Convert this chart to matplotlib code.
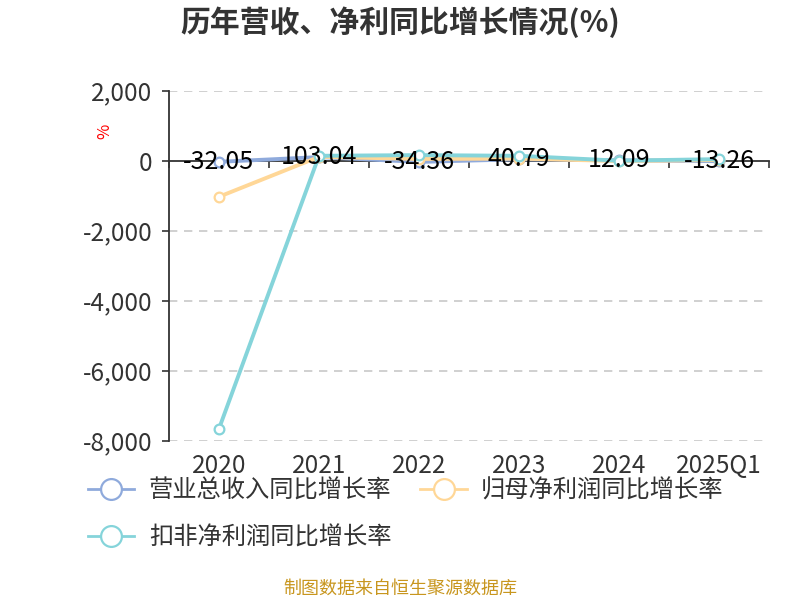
import matplotlib
matplotlib.use("Agg")
import matplotlib.pyplot as plt
from matplotlib.lines import Line2D
import numpy as np

plt.rcParams['font.family'] = ['Noto Sans CJK SC', 'DejaVu Sans']

categories = ['2020', '2021', '2022', '2023', '2024', '2025Q1']
revenue_growth = [-32.05, 103.04, -34.36, 40.79, 12.09, -13.26]
parent_profit_growth = [-1030, 110, 50, 60, -10, 20]
deducted_profit_growth = [-7657, 140, 160, 140, 0, 45]
series_names = ['营业总收入同比增长率', '归母净利润同比增长率', '扣非净利润同比增长率']
yticks = [2000, 0, -2000, -4000, -6000, -8000]

colors = ['#8FAADC', '#FFD797', '#85D4DA']

fig = plt.figure(figsize=(8, 6), dpi=100)
ax = fig.add_axes([169/800, 1-440.7/600, 600/800, (440.7-90.7)/600])

x = np.arange(len(categories))
series = [revenue_growth, parent_profit_growth, deducted_profit_growth]
handles = []
for i, (vals, c, name) in enumerate(zip(series, colors, series_names)):
    ax.plot(x, vals, color=c, lw=2.8, marker='o', markersize=7,
            markerfacecolor='white', markeredgecolor=c, markeredgewidth=1.6,
            zorder=3 + i, clip_on=False)
    handles.append(Line2D([], [], color=c, lw=2, marker='o', markersize=15,
                          markerfacecolor='white', markeredgecolor=c,
                          markeredgewidth=1.6, label=name))

for xi, v in zip(x, revenue_growth):
    ax.text(xi, v, f'{v:.2f}', ha='center', va='center', fontsize=18,
            color='#000000', zorder=10)

ax.set_xlim(-0.5, len(categories) - 0.5)
ax.set_ylim(-8000, 2000)
ax.set_yticks(yticks)
ax.set_yticklabels([f'{t:,}' for t in yticks])
ax.tick_params(axis='y', length=5, width=1.2, color='#333333', labelsize=17.5,
               labelcolor='#333333', pad=7)
for t in yticks:
    if t != 0:
        ax.axhline(t, color='#C8C8C8', lw=1.2, ls=(0, (5, 4)), zorder=0)

ax.spines['top'].set_visible(False)
ax.spines['right'].set_visible(False)
ax.spines['left'].set_color('#333333')
ax.spines['left'].set_linewidth(1.3)
ax.spines['bottom'].set_position(('data', 0))
ax.spines['bottom'].set_color('#333333')
ax.spines['bottom'].set_linewidth(1.3)
ax.spines['bottom'].set_zorder(2)
ax.set_xticks(np.arange(len(categories) + 1) - 0.5)
ax.set_xticklabels([])
ax.tick_params(axis='x', length=5, width=1.2, color='#333333', direction='out')

sec = ax.secondary_xaxis(0.0)
sec.set_xticks(x)
sec.set_xticklabels(categories)
sec.tick_params(axis='x', length=0, labelsize=17.5, labelcolor='#333333', pad=9)
sec.spines['bottom'].set_visible(False)

fig.text(0.5, 1-22/600, '历年营收、净利同比增长情况(%)', ha='center', va='center',
         fontsize=21.5, fontweight='bold', color='#333333')
fig.text(105/800, 1-131/600, '%', ha='center', va='center', rotation=90,
         fontsize=12, color='#FF0000')

fig.legend([handles[0], handles[2], handles[1]],
           [series_names[0], series_names[2], series_names[1]],
           ncol=2, loc='upper left', bbox_to_anchor=(88/800, 1-478/600),
           frameon=False, fontsize=17.5, handlelength=1.9, handletextpad=0.6,
           columnspacing=1.2, labelspacing=0.85, borderpad=0, borderaxespad=0,
           labelcolor='#333333')

fig.text(0.5, 1-589/600, '制图数据来自恒生聚源数据库', ha='center', va='center',
         fontsize=13, color='#C8961E')

fig.savefig('out.png', dpi=100)
